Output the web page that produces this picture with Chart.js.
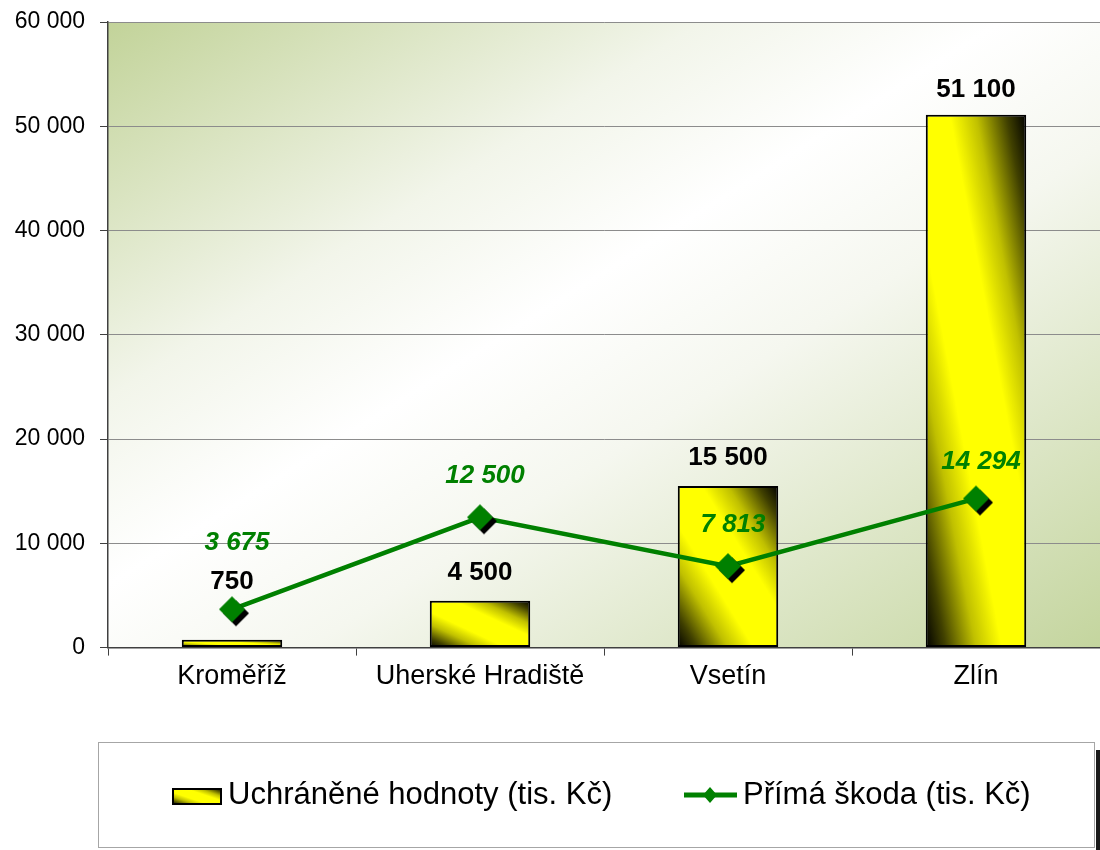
<!DOCTYPE html>
<html>
<head>
<meta charset="utf-8">
<script src="https://cdn.jsdelivr.net/npm/chart.js@4.4.1/dist/chart.umd.min.js"></script>
<style>
  html, body { margin: 0; padding: 0; background: #fff; }
</style>
</head>
<body>
<canvas id="chart" width="1100" height="850"></canvas>
<script>
// data
const categories = ["Kroměříž", "Uherské Hradiště", "Vsetín", "Zlín"];
const protectedValues = [750, 4500, 15500, 51100];
const directDamage = [3675, 12500, 7813, 14294];
const yTicks = [0, 10000, 20000, 30000, 40000, 50000, 60000];
const seriesNames = ["Uchráněné hodnoty (tis. Kč)", "Přímá škoda (tis. Kč)"];

// how far the value labels sit above the bar top / point (px)
const barLabelLift = [58, 28, 28, 25];
const lineLabelLift = [66, 41, 41, 37];

const FONT = "'Liberation Sans', Arial, sans-serif";
const GREEN = "#008000";
const BAR_PCT = 0.405;
const barStops = [[0, "#000000"], [0.1, "#404000"], [0.25, "#c0c000"], [0.38, "#ffff00"],
                  [0.62, "#ffff00"], [0.75, "#c0c000"], [0.9, "#404000"], [1, "#000000"]];
const plotStops = [[0, "#c2d399"], [0.3, "#f2f5ea"], [0.45, "#ffffff"], [0.6, "#f5f7ef"], [1, "#c4d59e"]];

function fmt(v) {
    return String(v).replace(/\B(?=(\d{3})+(?!\d))/g, " ");
}

// gradient across a rectangle, colour bands parallel to one of its diagonals
function diagGradient(ctx, x0, y0, w, h, stops, flip) {
    const L = Math.sqrt(w * w + h * h) || 1;
    const cx = x0 + w / 2, cy = y0 + h / 2;
    const k = w * h / L;
    const dx = h / L * k;
    const dy = (flip ? w : -w) / L * k;
    const g = ctx.createLinearGradient(cx - dx, cy - dy, cx + dx, cy + dy);
    stops.forEach(s => g.addColorStop(s[0], s[1]));
    return g;
}

// green diamond with a black drop shadow, used as point style
function diamondImage(r, off) {
    const s = 2 * (r + off) + 4;
    const cv = document.createElement("canvas");
    cv.width = s; cv.height = s;
    const g = cv.getContext("2d");
    const c = s / 2;
    const dia = (x, y, col) => {
        g.beginPath();
        g.moveTo(x, y - r); g.lineTo(x + r, y); g.lineTo(x, y + r); g.lineTo(x - r, y);
        g.closePath();
        g.fillStyle = col;
        g.fill();
    };
    dia(c + off, c + off, "#000");
    dia(c, c, GREEN);
    return cv;
}

function barFill(c) {
    const chart = c.chart;
    if (!chart.chartArea || c.type !== "data") return "#ffff00";
    const xs = chart.scales.x, ys = chart.scales.y;
    const x = xs.getPixelForValue(c.dataIndex);
    const w = xs.width / categories.length * BAR_PCT;
    const top = ys.getPixelForValue(c.raw);
    const base = ys.getPixelForValue(0);
    return diagGradient(chart.ctx, x - w / 2, top, w, base - top, barStops, false);
}

const decor = {
    id: "decor",
    beforeDraw(chart) {
        const { ctx, chartArea: a } = chart;
        ctx.save();
        ctx.fillStyle = diagGradient(ctx, a.left, a.top, a.right - a.left, a.bottom - a.top, plotStops, true);
        ctx.fillRect(a.left, a.top, a.right - a.left, a.bottom - a.top);
        ctx.restore();
    },
    afterDatasetsDraw(chart) {
        const ctx = chart.ctx;
        ctx.save();
        ctx.textAlign = "center";
        ctx.textBaseline = "middle";
        ctx.font = "bold 26px " + FONT;
        ctx.fillStyle = "#000";
        chart.getDatasetMeta(0).data.forEach((el, i) => {
            ctx.fillText(fmt(protectedValues[i]), el.x, el.y - barLabelLift[i]);
        });
        ctx.font = "italic bold 26px " + FONT;
        ctx.fillStyle = GREEN;
        chart.getDatasetMeta(1).data.forEach((el, i) => {
            ctx.fillText(fmt(directDamage[i]), el.x + 5, el.y - lineLabelLift[i]);
        });
        ctx.restore();
    },
    afterDraw(chart) {
        // legend box
        const ctx = chart.ctx;
        ctx.save();
        ctx.fillStyle = "#fff";
        ctx.fillRect(98, 742, 997, 106);
        ctx.strokeStyle = "#a6a6a6";
        ctx.lineWidth = 1;
        ctx.strokeRect(98.5, 742.5, 996, 105);
        ctx.fillStyle = "#1a1a1a";
        ctx.fillRect(1096, 750, 4, 100);

        const cy = 795;
        // bar swatch
        ctx.fillStyle = diagGradient(ctx, 172, 788, 50, 17, barStops, false);
        ctx.fillRect(172, 788, 50, 17);
        ctx.strokeStyle = "#000";
        ctx.lineWidth = 2;
        ctx.strokeRect(173, 789, 48, 15);
        // line swatch
        ctx.strokeStyle = GREEN;
        ctx.lineWidth = 5;
        ctx.beginPath();
        ctx.moveTo(684, cy); ctx.lineTo(737, cy);
        ctx.stroke();
        ctx.fillStyle = GREEN;
        ctx.beginPath();
        ctx.moveTo(710, cy - 8); ctx.lineTo(717, cy); ctx.lineTo(710, cy + 8); ctx.lineTo(703, cy);
        ctx.closePath();
        ctx.fill();

        ctx.fillStyle = "#000";
        ctx.font = "31px " + FONT;
        ctx.textAlign = "left";
        ctx.textBaseline = "middle";
        ctx.fillText(chart.data.datasets[0].label, 228, cy);
        ctx.fillText(chart.data.datasets[1].label, 743, cy);
        ctx.restore();
    }
};

const ctx = document.getElementById("chart").getContext("2d");
const chart = new Chart(ctx, {
    type: "bar",
    data: {
        labels: categories,
        datasets: [
            {
                type: "bar",
                label: seriesNames[0],
                data: protectedValues,
                backgroundColor: barFill,
                borderColor: "#000",
                borderWidth: 2,
                borderSkipped: false,
                barPercentage: BAR_PCT,
                categoryPercentage: 1,
                order: 2
            },
            {
                type: "line",
                label: seriesNames[1],
                data: directDamage,
                borderColor: GREEN,
                backgroundColor: GREEN,
                borderWidth: 4.5,
                tension: 0,
                pointStyle: diamondImage(13, 4),
                pointRadius: 13,
                order: 1
            }
        ]
    },
    options: {
        responsive: false,
        animation: false,
        layout: { autoPadding: false, padding: { top: 22, right: -6, bottom: 152, left: 0 } },
        plugins: {
            legend: { display: false },
            tooltip: { enabled: false }
        },
        scales: {
            x: {
                afterFit: s => { s.paddingLeft = 0; s.paddingRight = 0; },
                grid: { display: true, drawOnChartArea: false, offset: true, tickLength: 8, color: "#404040" },
                border: { color: "#404040", width: 1.5 },
                ticks: { color: "#000", padding: 5, font: { family: FONT, size: 27 } }
            },
            y: {
                min: 0,
                max: 60000,
                afterBuildTicks: s => { s.ticks = yTicks.map(v => ({ value: v })); },
                afterFit: s => { s.width = 108; s.paddingTop = 0; s.paddingBottom = 0; },
                grid: { color: "#8c8c8c", tickColor: "#404040", tickLength: 8 },
                border: { color: "#404040", width: 1.5 },
                ticks: { color: "#000", padding: 15, font: { family: FONT, size: 23 }, callback: v => fmt(v) }
            }
        }
    },
    plugins: [decor]
});
</script>
</body>
</html>
